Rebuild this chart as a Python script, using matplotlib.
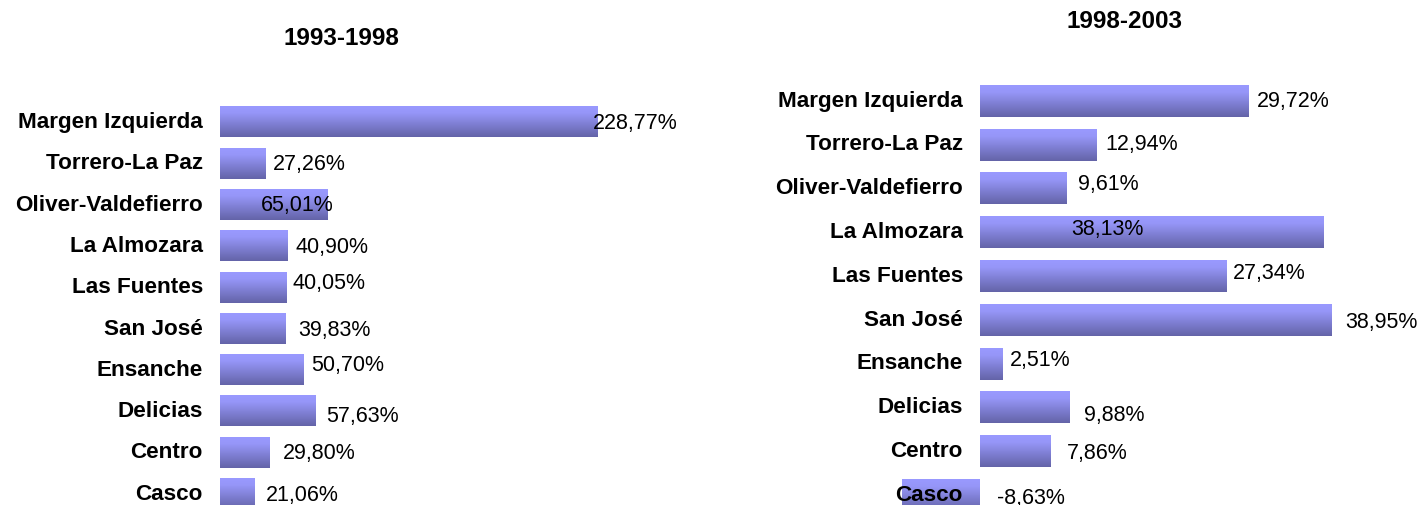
import numpy as np
import matplotlib
matplotlib.use("Agg")
import matplotlib.pyplot as plt
from matplotlib.colors import LinearSegmentedColormap

# ---------------- data ----------------
districts = ["Margen Izquierda", "Torrero-La Paz", "Oliver-Valdefierro", "La Almozara",
             "Las Fuentes", "San José", "Ensanche", "Delicias", "Centro", "Casco"]
title_left = "1993-1998"
title_right = "1998-2003"
growth_93_98 = [228.77, 27.26, 65.01, 40.90, 40.05, 39.83, 50.70, 57.63, 29.80, 21.06]
growth_98_03 = [29.72, 12.94, 9.61, 38.13, 27.34, 38.95, 2.51, 9.88, 7.86, -8.63]

# label placement tweaks (pixels: dx from bar end, dy up from bar centre)
offs_left = [(-5, 2), (8, 2.5), (-67, 3), (8, 2), (6, 7), (12, 1.5), (7, 8), (11, -2), (14, 2), (11, 2)]
offs_right = [(9, 3), (9, 3), (11, 7), (-253, 6), (6, 6), (14, 1), (7, 6.5), (15, -5), (16, 1), (17, 0)]

W, H = 1420, 506
DPI = 100
fig = plt.figure(figsize=(W / DPI, H / DPI), dpi=DPI)
fig.patch.set_facecolor("white")

cmap = LinearSegmentedColormap.from_list(
    "bar", [(0.0, "#9999FF"), (0.22, "#9696F8"), (1.0, "#6464A8")])
grad = np.linspace(0, 1, 64).reshape(-1, 1)

PT = 72.0 / DPI  # points per pixel
LABEL_FS = 16.2
VALUE_FS = 15.5
CAP = 0.716 * 15.5 / PT  # cap height in px


def fmt(v):
    return f"{v:.2f}".replace(".", ",") + "%"


def panel(rect_px, xlim, ylim, values, offs, title, title_xy):
    x0, y0, w, h = rect_px
    ax = fig.add_axes([x0 / W, y0 / H, w / W, h / H])
    ax.set_axis_off()
    n = len(values)
    ypos = np.arange(n)[::-1]  # first item on top
    bars = ax.barh(ypos, values, height=0.73, color="none", edgecolor="none")
    for p in bars.patches:
        bx, by, bw, bh = p.get_x(), p.get_y(), p.get_width(), p.get_height()
        ax.imshow(grad, cmap=cmap, aspect="auto", origin="upper",
                  extent=(bx, bx + bw, by, by + bh), interpolation="bilinear",
                  vmin=0, vmax=1, zorder=2)
    ax.set_xlim(*xlim)
    ax.set_ylim(*ylim)
    for name, v, y, (dx, dy) in zip(districts, values, ypos, offs):
        # category label, right-aligned at the zero line
        ax.annotate(name, xy=(0, y), xytext=(-17 * PT, (3 - CAP / 2) * PT),
                    textcoords="offset points", ha="right", va="baseline",
                    fontsize=LABEL_FS, fontweight="bold", family="Liberation Sans",
                    color="black", annotation_clip=False, zorder=5)
        anchor = max(v, 0)
        ax.annotate(fmt(v), xy=(anchor, y), xytext=(dx * PT, (dy - CAP / 2) * PT),
                    textcoords="offset points", ha="left", va="baseline",
                    fontsize=VALUE_FS, family="Liberation Sans",
                    color="black", annotation_clip=False, zorder=5)
    fig.text(title_xy[0] / W, 1 - title_xy[1] / H, title, ha="center", va="center",
             fontsize=17.5, fontweight="bold", family="Liberation Sans", color="black")
    return ax


# left panel: zero at x=220 px, 1.652 px per %, Casco centre at y=495, pitch 41.3 px
sx_l = 1.652
pitch_l = 41.3
top_l = 80
panel((220, 0, 250 * sx_l, H - top_l), (0, 250),
      ((495 - 506) / pitch_l, (495 - top_l) / pitch_l),
      growth_93_98, offs_left, title_left, (341, 38.5))

# right panel: zero at x=980 px, 9.02 px per %, Casco centre at y=496, pitch 43.8 px
sx_r = 9.02
pitch_r = 43.8
top_r = 60
panel((980 - 10 * sx_r, 0, 55 * sx_r, H - top_r), (-10, 45),
      ((496 - 506) / pitch_r, (496 - top_r) / pitch_r),
      growth_98_03, offs_right, title_right, (1124, 21))

fig.savefig("out.png", dpi=DPI, facecolor="white")
